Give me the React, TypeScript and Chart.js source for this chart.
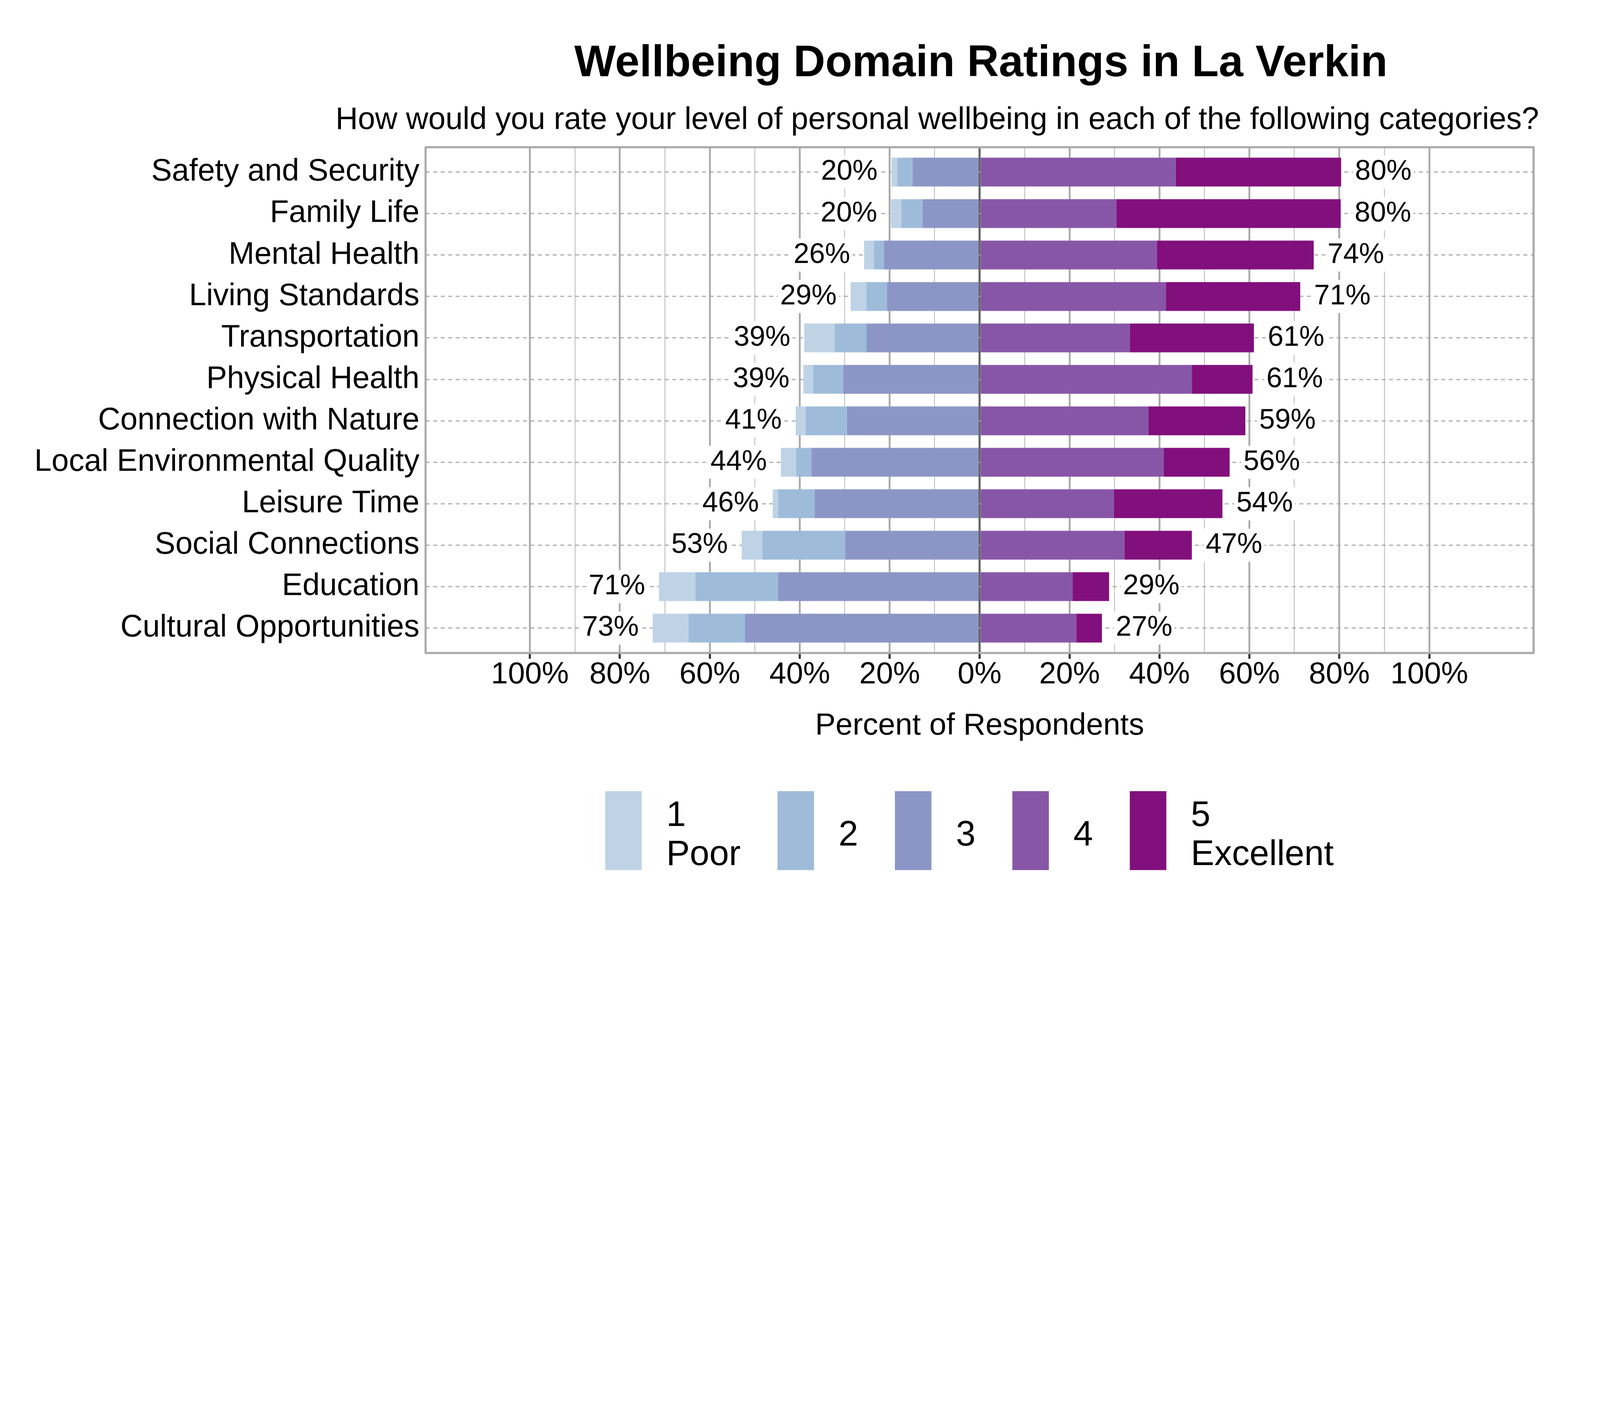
import React, { useEffect, useRef } from 'react';
import { Chart, registerables } from 'chart.js';

Chart.register(...registerables);

// ---------- data ----------
const CATEGORIES = [
  'Safety and Security',
  'Family Life',
  'Mental Health',
  'Living Standards',
  'Transportation',
  'Physical Health',
  'Connection with Nature',
  'Local Environmental Quality',
  'Leisure Time',
  'Social Connections',
  'Education',
  'Cultural Opportunities',
];
const RATING_1 = [1.3, 2.3, 2.2, 3.5, 6.8, 2.2, 2.2, 3.4, 1.2, 4.6, 8.1, 8.0];
const RATING_2 = [3.4, 4.7, 2.2, 4.6, 7.0, 6.7, 9.2, 3.4, 8.1, 18.4, 18.4, 12.5];
const RATING_3 = [14.9, 12.7, 21.3, 20.6, 25.2, 30.3, 29.5, 37.4, 36.7, 29.9, 44.8, 52.2];
const RATING_4 = [43.6, 30.4, 39.4, 41.4, 33.4, 47.2, 37.5, 40.9, 29.9, 32.2, 20.7, 21.5];
const RATING_5 = [36.8, 49.9, 34.9, 29.9, 27.6, 13.5, 21.6, 14.7, 24.1, 15.0, 8.1, 5.7];
const LEVEL_NAMES = ['1\nPoor', '2', '3', '4', '5\nExcellent'];
const X_TICK_VALUES = [-100, -90, -80, -70, -60, -50, -40, -30, -20, -10, 0, 10, 20, 30, 40, 50, 60, 70, 80, 90, 100];
const TITLE = 'Wellbeing Domain Ratings in La Verkin';
const SUBTITLE = 'How would you rate your level of personal wellbeing in each of the following categories?';
const X_TITLE = 'Percent of Respondents';

// ---------- styles ----------
const LEVEL_COLORS = ['#BFD3E6', '#9EBCDA', '#8C96C6', '#8856A7', '#810F7C'];
const FONT = '"Liberation Sans", Arial, Helvetica, sans-serif';

const toPoints = (vals: number[], sign: number) => vals.map((v, i) => ({ x: sign * v, y: i }));

function makeDecorPlugin(s: number) {
  const k = (v: number) => v * s;
  return {
    id: 'decor',
    beforeDatasetsDraw(chart: any) {
      const { ctx, chartArea: a } = chart;
      ctx.save();
      ctx.strokeStyle = '#ABABAB';
      ctx.lineWidth = k(8);
      ctx.lineJoin = 'round';
      ctx.strokeRect(a.left, a.top, a.right - a.left, a.bottom - a.top);
      ctx.restore();
    },
    afterDatasetsDraw(chart: any) {
      const { ctx } = chart;
      const xs = chart.scales.x;
      const ys = chart.scales.y;
      ctx.save();
      ctx.font = `${k(106)}px ${FONT}`;
      ctx.textBaseline = 'middle';
      const drawLabel = (text: string, x: number, y: number, align: 'left' | 'right') => {
        const w = ctx.measureText(text).width;
        const left = align === 'right' ? x - w : x;
        ctx.fillStyle = '#FFFFFF';
        ctx.fillRect(left - k(8), y - k(62), w + k(16), k(124));
        ctx.fillStyle = '#000000';
        ctx.textAlign = align;
        ctx.fillText(text, x, y);
      };
      CATEGORIES.forEach((_, i) => {
        const neg = RATING_1[i] + RATING_2[i] + RATING_3[i];
        const pos = RATING_4[i] + RATING_5[i];
        const y = ys.getPixelForValue(i);
        drawLabel(Math.round(neg) + '%', xs.getPixelForValue(-neg) - k(52), y, 'right');
        drawLabel(Math.round(pos) + '%', xs.getPixelForValue(pos) + k(52), y, 'left');
      });
      ctx.restore();
    },
    afterDraw(chart: any) {
      const { ctx, chartArea: a } = chart;
      const cx = (a.left + a.right) / 2;
      ctx.save();
      ctx.fillStyle = '#000000';
      ctx.textBaseline = 'alphabetic';
      // title
      ctx.font = `bold ${k(165)}px ${FONT}`;
      ctx.textAlign = 'center';
      ctx.fillText(TITLE, cx + k(5), a.top - k(266));
      // subtitle
      ctx.font = `${k(116)}px ${FONT}`;
      ctx.textAlign = 'right';
      ctx.fillText(SUBTITLE, a.right + k(20), a.top - k(68));

      // legend
      const swW = k(137);
      const swH = k(296);
      const swTop = a.bottom + k(518);
      const textGap = k(92);
      const itemGap = k(138);
      const lineH = k(146);
      const textMid = swTop + k(168);
      ctx.font = `${k(132)}px ${FONT}`;
      const widths = LEVEL_NAMES.map((n) =>
        Math.max(...n.split('\n').map((t) => ctx.measureText(t).width))
      );
      const total =
        widths.reduce((acc, w) => acc + swW + textGap + w, 0) + itemGap * (LEVEL_NAMES.length - 1);
      let x = cx - k(38) - total / 2;
      LEVEL_NAMES.forEach((name, j) => {
        ctx.fillStyle = LEVEL_COLORS[j];
        ctx.fillRect(x, swTop, swW, swH);
        const lines = name.split('\n');
        ctx.fillStyle = '#000000';
        ctx.textAlign = 'left';
        ctx.textBaseline = 'middle';
        lines.forEach((ln, m) => {
          ctx.fillText(ln, x + swW + textGap, textMid + (m - (lines.length - 1) / 2) * lineH);
        });
        x += swW + textGap + widths[j] + itemGap;
      });
      ctx.restore();
    },
  };
}

export default function App() {
  const boxRef = useRef<HTMLDivElement | null>(null);
  const ref = useRef<HTMLCanvasElement | null>(null);

  useEffect(() => {
    if (!ref.current || !boxRef.current) return;
    const W = boxRef.current.clientWidth || 6000;
    const s = W / 6000;
    const k = (v: number) => v * s;

    Chart.defaults.font.family = FONT;
    Chart.defaults.color = '#000000';

    const datasets = [
      { label: LEVEL_NAMES[2], data: toPoints(RATING_3, -1), backgroundColor: LEVEL_COLORS[2] },
      { label: LEVEL_NAMES[1], data: toPoints(RATING_2, -1), backgroundColor: LEVEL_COLORS[1] },
      { label: LEVEL_NAMES[0], data: toPoints(RATING_1, -1), backgroundColor: LEVEL_COLORS[0] },
      { label: LEVEL_NAMES[3], data: toPoints(RATING_4, 1), backgroundColor: LEVEL_COLORS[3] },
      { label: LEVEL_NAMES[4], data: toPoints(RATING_5, 1), backgroundColor: LEVEL_COLORS[4] },
    ].map((d) => ({ ...d, borderWidth: 0, barPercentage: 0.695, categoryPercentage: 1 }));

    const chart = new Chart(ref.current, {
      type: 'bar',
      data: { datasets },
      options: {
        indexAxis: 'y',
        responsive: true,
        maintainAspectRatio: false,
        animation: false,
        layout: { padding: { top: k(552), right: k(249), bottom: k(809), left: 0 } },
        plugins: {
          legend: { display: false },
          title: { display: false },
          tooltip: { enabled: false },
        },
        scales: {
          x: {
            type: 'linear',
            stacked: true,
            min: -123.2,
            max: 123.2,
            afterBuildTicks: (scale: any) => {
              scale.ticks = X_TICK_VALUES.map((v) => ({ value: v }));
            },
            afterFit: (scale: any) => {
              scale.height = k(343);
            },
            ticks: {
              autoSkip: false,
              maxRotation: 0,
              minRotation: 0,
              padding: k(3),
              color: '#000000',
              font: { size: k(114), lineHeight: 1 },
              callback: (v: any) => (Number(v) % 20 === 0 ? Math.abs(Number(v)) + '%' : ''),
            },
            grid: {
              color: (c: any) =>
                c.tick && c.tick.value === 0
                  ? '#666666'
                  : c.tick && c.tick.value % 20 === 0
                  ? '#ABABAB'
                  : '#C2C2C2',
              lineWidth: (c: any) =>
                c.tick && c.tick.value === 0 ? k(8) : c.tick && c.tick.value % 20 === 0 ? k(7) : k(3.5),
              tickColor: (c: any) =>
                c.tick && c.tick.value % 20 === 0 ? '#333333' : 'rgba(0,0,0,0)',
              tickWidth: k(8),
              tickLength: k(22),
              drawTicks: true,
              offset: false,
            },
            border: { display: false },
            title: {
              display: true,
              text: X_TITLE,
              color: '#000000',
              font: { size: k(115) },
              padding: 0,
            },
          },
          y: {
            type: 'linear',
            stacked: true,
            reverse: true,
            offset: false,
            min: -0.6,
            max: 11.6,
            afterBuildTicks: (scale: any) => {
              scale.ticks = CATEGORIES.map((_, i) => ({ value: i }));
            },
            afterFit: (scale: any) => {
              scale.width = k(1596);
            },
            ticks: {
              autoSkip: false,
              padding: k(23),
              color: '#000000',
              font: { size: k(116) },
              callback: (v: any) => CATEGORIES[Number(v)] ?? '',
            },
            grid: {
              color: '#A6A6A6',
              lineWidth: k(4),
              drawTicks: false,
              offset: false,
            },
            border: { display: false, dash: [k(15), k(13)] },
          },
        },
      },
      plugins: [makeDecorPlugin(s)],
    } as any);

    return () => chart.destroy();
  }, []);

  return (
    <div
      ref={boxRef}
      style={{
        position: 'fixed',
        left: 0,
        top: 0,
        width: 'min(100vw, calc(100vh * 5 / 3))',
        height: 'min(60vw, 100vh)',
        overflow: 'hidden',
        background: '#FFFFFF',
      }}
    >
      <canvas ref={ref} style={{ display: 'block' }} />
    </div>
  );
}
